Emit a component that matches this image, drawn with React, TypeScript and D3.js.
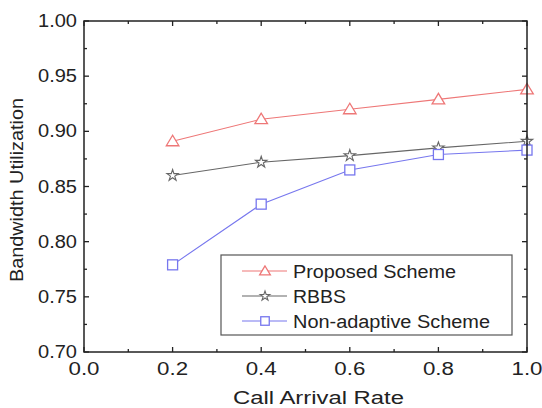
import React from "react";
import * as d3 from "d3";

const xValues = [0.2, 0.4, 0.6, 0.8, 1.0];
const proposed = [0.891, 0.911, 0.920, 0.929, 0.938];
const rbbs = [0.860, 0.872, 0.878, 0.885, 0.891];
const nonAdaptive = [0.779, 0.834, 0.865, 0.879, 0.883];
const xTicks = [0.0, 0.2, 0.4, 0.6, 0.8, 1.0];
const yTicks = [0.7, 0.75, 0.8, 0.85, 0.9, 0.95, 1.0];
const seriesNames = ["Proposed Scheme", "RBBS", "Non-adaptive Scheme"];

const W = 542, H = 408;
const M = { left: 84, right: 527, top: 21, bottom: 352 };
const FONT = "'Liberation Sans', Arial, sans-serif";

const series = [
  { name: seriesNames[0], values: proposed, color: "#ee7777", marker: "tri" },
  { name: seriesNames[1], values: rbbs, color: "#666666", marker: "star" },
  { name: seriesNames[2], values: nonAdaptive, color: "#7777ee", marker: "sq" },
];

function Marker({ type, x, y, color, k = 1 }: { type: string; x: number; y: number; color: string; k?: number }) {
  if (type === "tri") {
    const s = 6 * k;
    return (
      <polygon
        points={`${x},${y - s} ${x - s * 1.05},${y + s * 0.75} ${x + s * 1.05},${y + s * 0.75}`}
        fill="white" stroke={color} strokeWidth={1.3}
      />
    );
  }
  if (type === "sq") {
    const s = 5 * k;
    return <rect x={x - s} y={y - s} width={2 * s} height={2 * s} fill="white" stroke={color} strokeWidth={1.3} />;
  }
  const star = d3.symbol().type(d3.symbolStar).size(40 * k * k)();
  return <path d={star || ""} transform={`translate(${x},${y})`} fill="white" stroke={color} strokeWidth={1.1} />;
}

export default function App() {
  const x = d3.scaleLinear().domain([0, 1]).range([M.left, M.right]);
  const y = d3.scaleLinear().domain([0.7, 1.0]).range([M.bottom, M.top]);
  const line = d3.line<number>();

  const xMinor = d3.range(0, 1.0001, 0.1);
  const yMinor = d3.range(0.7, 1.0001, 0.025);
  const axisColor = "#222";

  return (
    <svg width={W} height={H} style={{ position: "absolute", left: 0, top: 0, background: "white" }}>
      {series.map((s) => (
        <g key={s.name}>
          <path
            d={line(s.values.map((v, i) => [x(xValues[i]), y(v)]) as any) || ""}
            fill="none" stroke={s.color} strokeWidth={1.1}
          />
          {s.values.map((v, i) => (
            <Marker key={i} type={s.marker} x={x(xValues[i])} y={y(v)} color={s.color} />
          ))}
        </g>
      ))}

      <rect x={M.left} y={M.top} width={M.right - M.left} height={M.bottom - M.top} fill="none" stroke={axisColor} strokeWidth={1.5} />

      {xMinor.map((t, i) => {
        const len = i % 2 === 0 ? 5 : 3;
        return (
          <g key={"xt" + i}>
            <line x1={x(t)} x2={x(t)} y1={M.bottom} y2={M.bottom - len} stroke={axisColor} strokeWidth={1.3} />
            <line x1={x(t)} x2={x(t)} y1={M.top} y2={M.top + len} stroke={axisColor} strokeWidth={1.3} />
          </g>
        );
      })}
      {yMinor.map((t, i) => {
        const len = i % 2 === 0 ? 5 : 3;
        return (
          <g key={"yt" + i}>
            <line x1={M.left} x2={M.left + len} y1={y(t)} y2={y(t)} stroke={axisColor} strokeWidth={1.3} />
            <line x1={M.right} x2={M.right - len} y1={y(t)} y2={y(t)} stroke={axisColor} strokeWidth={1.3} />
          </g>
        );
      })}

      {xTicks.map((t) => (
        <text key={"xl" + t} x={x(t)} y={375} textAnchor="middle" fontFamily={FONT} fontSize={17.5}
          fill="#222" textLength={31} lengthAdjust="spacingAndGlyphs">
          {t.toFixed(1)}
        </text>
      ))}
      {yTicks.map((t) => (
        <text key={"yl" + t} x={77} y={y(t) + 6} textAnchor="end" fontFamily={FONT} fontSize={17.5}
          fill="#222" textLength={39} lengthAdjust="spacingAndGlyphs">
          {t.toFixed(2)}
        </text>
      ))}

      <text x={318.5} y={404} textAnchor="middle" fontFamily={FONT} fontSize={17.5} fill="#222"
        textLength={171} lengthAdjust="spacingAndGlyphs">
        Call Arrival Rate
      </text>
      <text transform={`translate(23,190) rotate(-90)`} textAnchor="middle" fontFamily={FONT} fontSize={17.5} fill="#222"
        textLength={184} lengthAdjust="spacingAndGlyphs">
        Bandwidth Utilization
      </text>

      <rect x={221} y={255} width={291} height={80} fill="white" stroke="#555" strokeWidth={1.2} />
      {series.map((s, i) => {
        const ly = [271, 296, 321][i];
        const widths = [163, 53, 197];
        return (
          <g key={"lg" + i}>
            <line x1={242} x2={287} y1={ly} y2={ly} stroke={s.color} strokeWidth={1.1} />
            <Marker type={s.marker} x={265} y={ly} color={s.color} k={0.85} />
            <text x={293} y={ly + 6.5} fontFamily={FONT} fontSize={18} fill="#222"
              textLength={widths[i]} lengthAdjust="spacingAndGlyphs">
              {s.name}
            </text>
          </g>
        );
      })}
    </svg>
  );
}
